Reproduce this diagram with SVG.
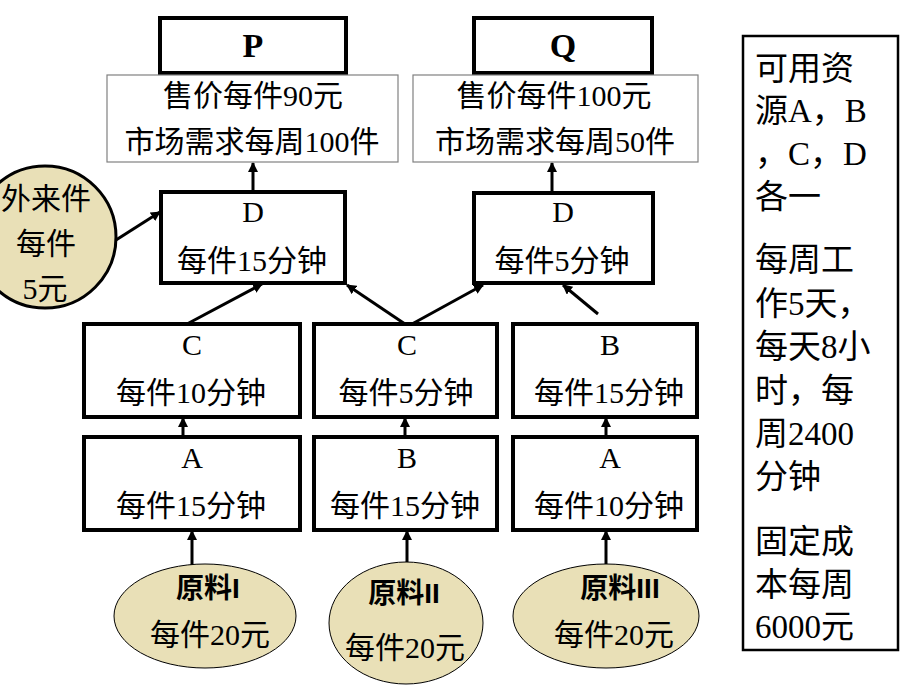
<svg xmlns="http://www.w3.org/2000/svg" width="920" height="690" viewBox="0 0 920 690">
<defs>
<style>
.t{font-family:'Liberation Serif','Noto Sans CJK SC',serif;font-size:30px;fill:#000;text-anchor:middle}
.side{font-family:'Liberation Serif','Noto Sans CJK SC',serif;font-size:33px;fill:#000}
.bold{font-family:'Liberation Sans','Noto Sans CJK SC',sans-serif;font-size:28px;font-weight:bold;fill:#000;text-anchor:middle}
.title{font-family:'Liberation Serif','Noto Sans CJK SC',serif;font-size:34px;font-weight:bold;fill:#000;text-anchor:middle}
.box{fill:#fff;stroke:#000;stroke-width:4}
.price{fill:#fff;stroke:#808080;stroke-width:1.2}
.res{fill:#E9E0B7;stroke:#000;stroke-width:1}
.con{stroke:#000;stroke-width:3;fill:none;marker-end:url(#ah)}
</style>
<marker id="ah" viewBox="0 0 10 10" refX="9" refY="5" markerWidth="10" markerHeight="10" markerUnits="userSpaceOnUse" orient="auto">
<path d="M0,0 L10,5 L0,10 z" fill="#000"/>
</marker>
</defs>
<rect width="920" height="690" fill="#fff"/>

<g id="connectors">
<line class="con" x1="253" y1="192" x2="253" y2="163"/>
<line class="con" x1="552" y1="193" x2="552" y2="163"/>
<line class="con" x1="116" y1="240" x2="160" y2="212"/>
<line class="con" x1="187" y1="324" x2="262" y2="284"/>
<line class="con" x1="405" y1="324" x2="347" y2="285"/>
<line class="con" x1="412" y1="324" x2="483" y2="285"/>
<line class="con" x1="598" y1="314" x2="563" y2="285"/>
<line class="con" x1="183" y1="437" x2="183" y2="418"/>
<line class="con" x1="405" y1="437" x2="405" y2="418"/>
<line class="con" x1="606" y1="437" x2="606" y2="418"/>
<line class="con" x1="192" y1="565" x2="192" y2="531"/>
<line class="con" x1="407" y1="562" x2="407" y2="531"/>
<line class="con" x1="606" y1="564" x2="606" y2="531"/>
</g>

<g id="P">
<rect class="box" x="160" y="18" width="186" height="55"/>
<text class="title" x="253" y="57">P</text>
</g>
<g id="Q">
<rect class="box" x="474" y="18" width="178" height="55"/>
<text class="title" x="563" y="57">Q</text>
</g>
<g id="priceP">
<rect class="price" x="107" y="75" width="291" height="87"/>
<text class="t" x="253" y="106">售价每件90元</text>
<text class="t" x="252" y="152">市场需求每周100件</text>
</g>
<g id="priceQ">
<rect class="price" x="413" y="75" width="285" height="87"/>
<text class="t" x="554" y="106">售价每件100元</text>
<text class="t" x="555" y="152">市场需求每周50件</text>
</g>

<g id="outside">
<circle cx="45" cy="237" r="71" fill="#E9E0B7" stroke="#000" stroke-width="3"/>
<text class="t" x="46" y="209">外来件</text>
<text class="t" x="46" y="254">每件</text>
<text class="t" x="45" y="299">5元</text>
</g>

<g id="DP">
<rect class="box" x="161" y="192" width="184" height="91"/>
<text class="t" x="253" y="222">D</text>
<text class="t" x="252" y="271">每件15分钟</text>
</g>
<g id="DQ">
<rect class="box" x="474" y="193" width="179" height="90"/>
<text class="t" x="563" y="222">D</text>
<text class="t" x="562" y="271">每件5分钟</text>
</g>

<g id="C1">
<rect class="box" x="84" y="324" width="216" height="93"/>
<text class="t" x="192" y="355">C</text>
<text class="t" x="191" y="403">每件10分钟</text>
</g>
<g id="C2">
<rect class="box" x="314" y="324" width="183" height="93"/>
<text class="t" x="407" y="355">C</text>
<text class="t" x="406" y="403">每件5分钟</text>
</g>
<g id="B3">
<rect class="box" x="513" y="324" width="184" height="93"/>
<text class="t" x="610" y="355">B</text>
<text class="t" x="609" y="403">每件15分钟</text>
</g>

<g id="A1">
<rect class="box" x="84" y="437" width="216" height="93"/>
<text class="t" x="192" y="468">A</text>
<text class="t" x="191" y="516">每件15分钟</text>
</g>
<g id="B2">
<rect class="box" x="314" y="437" width="183" height="93"/>
<text class="t" x="407" y="468">B</text>
<text class="t" x="405" y="516">每件15分钟</text>
</g>
<g id="A3">
<rect class="box" x="513" y="437" width="184" height="93"/>
<text class="t" x="610" y="468">A</text>
<text class="t" x="609" y="516">每件10分钟</text>
</g>

<g id="M1">
<ellipse class="res" cx="205" cy="616" rx="91" ry="52"/>
<text class="bold" x="208" y="598">原料I</text>
<text class="t" x="210" y="645">每件20元</text>
</g>
<g id="M2">
<ellipse class="res" cx="406" cy="623" rx="77" ry="61"/>
<text class="bold" x="404" y="603">原料II</text>
<text class="t" x="405" y="658">每件20元</text>
</g>
<g id="M3">
<ellipse class="res" cx="606" cy="616" rx="93" ry="52"/>
<text class="bold" x="620" y="598">原料III</text>
<text class="t" x="614" y="645">每件20元</text>
</g>

<g id="resources">
<rect x="743" y="36" width="155" height="614" fill="#fff" stroke="#000" stroke-width="2.5"/>
<text class="side" x="755" y="80">可用资</text>
<text class="side" x="755" y="122">源A，B</text>
<text class="side" x="755" y="165">，C，D</text>
<text class="side" x="755" y="208">各一</text>
<text class="side" x="755" y="271">每周工</text>
<text class="side" x="755" y="315">作5天，</text>
<text class="side" x="755" y="358">每天8小</text>
<text class="side" x="755" y="402">时，每</text>
<text class="side" x="755" y="445">周2400</text>
<text class="side" x="755" y="488">分钟</text>
<text class="side" x="755" y="553">固定成</text>
<text class="side" x="755" y="596">本每周</text>
<text class="side" x="755" y="638">6000元</text>
</g>
</svg>
